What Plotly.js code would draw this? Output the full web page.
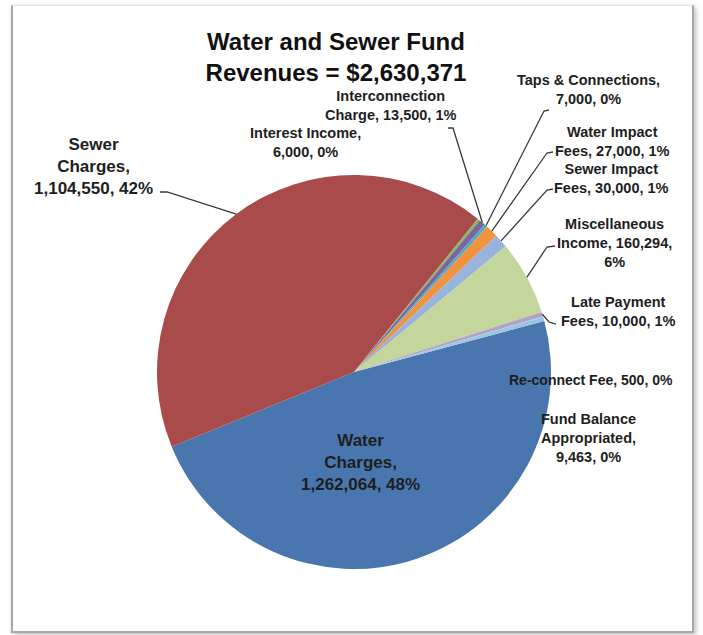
<!DOCTYPE html>
<html>
<head>
<meta charset="utf-8">
<script src="https://cdn.plot.ly/plotly-3.0.1.min.js"></script>
<style>
  html, body { margin: 0; padding: 0; background: #ffffff; width: 703px; height: 635px; overflow: hidden; }
  #frame { position: absolute; left: 11px; top: 5px; width: 679px; height: 625px;
           border-left: 2px solid #a8a8a8; border-right: 2px solid #a8a8a8; border-bottom: 2px solid #a8a8a8;
           border-top: 1px solid #e2e2e2; box-shadow: 2px 2px 5px rgba(0,0,0,0.25); }
  #chart { position: absolute; left: 0; top: 0; width: 678px; height: 635px; }
</style>
</head>
<body>
<div id="frame"></div>
<div id="chart"></div>
<script>
// ---- data ----
const categories = [
  "Water Charges", "Sewer Charges", "Interest Income", "Interconnection Charge",
  "Taps & Connections", "Water Impact Fees", "Sewer Impact Fees", "Miscellaneous Income",
  "Late Payment Fees", "Re-connect Fee", "Fund Balance Appropriated"
];
const values = [1262064, 1104550, 6000, 13500, 7000, 27000, 30000, 160294, 10000, 500, 9463];
const labelTexts = [
  "Water<br>Charges,<br>1,262,064, 48%",
  "Sewer<br>Charges,<br>1,104,550, 42%",
  "Interest Income,<br>6,000, 0%",
  "Interconnection<br>Charge, 13,500, 1%",
  "Taps & Connections,<br>7,000, 0%",
  "Water Impact<br>Fees, 27,000, 1%",
  "Sewer Impact<br>Fees, 30,000, 1%",
  "Miscellaneous<br>Income, 160,294,<br>6%",
  "Late Payment<br>Fees, 10,000, 1%",
  "Re-connect Fee, 500, 0%",
  "Fund Balance<br>Appropriated,<br>9,463, 0%"
];
const colors = ["#4A76AF", "#A84B4A", "#8DB45A", "#7B64A0", "#4BACC6", "#F0923E",
                "#98B4DC", "#C3D69B", "#B3A2C7", "#93CDDD", "#9CC6E0"];

// ---- layout geometry ----
const W = 678, H = 635;
const CX = 354, CY = 372, R = 197;
const ROT = 75;
const px = x => x / W;
const py = y => 1 - y / H;

// label placement (centre of text block, pixels)
const labelPos = [
  {x: 360, y: 462, size: 17, anchor: "center"},
  {x: 93,  y: 166, size: 17, anchor: "center"},
  {x: 305, y: 143, size: 14.5, anchor: "center"},
  {x: 390, y: 106, size: 14.5, anchor: "center"},
  {x: 588, y: 89,  size: 14.5, anchor: "center"},
  {x: 612, y: 141, size: 14.5, anchor: "center"},
  {x: 611, y: 178, size: 14.5, anchor: "center"},
  {x: 614, y: 243, size: 14.5, anchor: "center"},
  {x: 618, y: 311, size: 14.5, anchor: "center"},
  {x: 507, y: 380, size: 14, anchor: "left"},
  {x: 588, y: 438, size: 14.5, anchor: "center"}
];
// leader line starts (label side), pixels; null = no leader line
const leaderStart = [
  null,
  [[160, 192], [167, 192]],
  null,
  [[448, 128], [453, 128]],
  [[549, 110], [544, 111]],
  [[553, 152], [547, 153]],
  [[553, 189], [547, 190]],
  [[555, 246], [547, 247]],
  [[556, 324], [549, 322]],
  null,
  null
];

// slice mid angles from the data (clockwise from 12 o'clock)
const total = values.reduce((a, b) => a + b, 0);
let acc = ROT;
const midAngles = values.map(v => { const span = v / total * 360; const m = acc + span / 2; acc += span; return m; });
const edgePoint = i => {
  const a = midAngles[i] * Math.PI / 180;
  return [CX + R * Math.sin(a), CY - R * Math.cos(a)];
};

const font = "Liberation Sans, Arial, sans-serif";
const annotations = labelTexts.map((t, i) => ({
  text: "<b>" + t + "</b>",
  x: px(labelPos[i].x), y: py(labelPos[i].y), xref: "paper", yref: "paper",
  xanchor: labelPos[i].anchor, yanchor: "middle", showarrow: false, align: "center",
  font: {family: font, size: labelPos[i].size, color: "#1e1e1e"}
}));

const shapes = [];
leaderStart.forEach((s, i) => {
  if (!s) return;
  const e = edgePoint(i);
  const pts = s.concat([e]);
  const path = pts.map((p, k) => (k ? "L" : "M") + px(p[0]).toFixed(5) + "," + py(p[1]).toFixed(5)).join(" ");
  shapes.push({type: "path", xref: "paper", yref: "paper", path: path,
               line: {color: "#3a3a3a", width: 1.3}});
});

const trace = {
  type: "pie",
  labels: categories,
  values: values,
  sort: false,
  direction: "clockwise",
  rotation: ROT,
  textinfo: "none",
  textposition: "none",
  hoverinfo: "label+value+percent",
  marker: {colors: colors, line: {width: 0}},
  domain: {x: [px(CX - R), px(CX + R)], y: [py(CY + R), py(CY - R)]},
  showlegend: false
};

const layout = {
  width: W, height: H,
  margin: {l: 0, r: 0, t: 0, b: 0},
  paper_bgcolor: "rgba(0,0,0,0)",
  plot_bgcolor: "rgba(0,0,0,0)",
  showlegend: false,
  title: {
    text: "<b>Water and Sewer Fund<br>Revenues = $2,630,371</b>",
    x: px(336), xanchor: "center", xref: "paper",
    y: py(50), yanchor: "middle", yref: "container",
    font: {family: font, size: 24, color: "#111111"}
  },
  annotations: annotations,
  shapes: shapes
};

Plotly.newPlot("chart", [trace], layout, {displayModeBar: false, staticPlot: true});
</script>
</body>
</html>
